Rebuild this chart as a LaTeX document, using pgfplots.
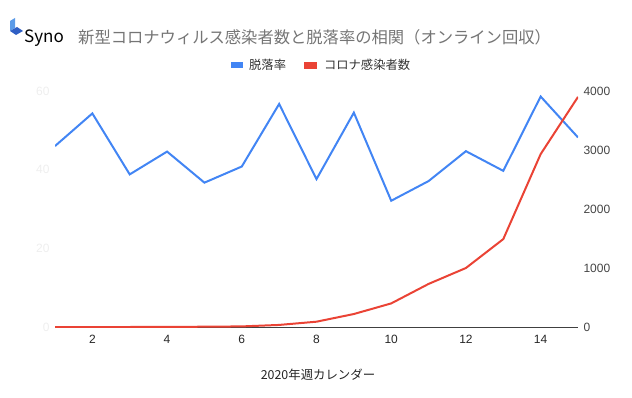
\documentclass[border=0pt]{standalone}
\usepackage{pgfplots}
\pgfplotsset{compat=1.18}
\usepackage{fontspec}
\setmainfont{Liberation Sans}
\newfontfamily\cjk{Noto Sans CJK JP}
\definecolor{cblue}{HTML}{4285F4}
\definecolor{cred}{HTML}{EA4335}
\definecolor{ltick}{HTML}{EEEEEE}
\definecolor{rtick}{HTML}{444444}
\definecolor{ttl}{HTML}{757575}
\definecolor{logolt}{HTML}{5B9BE8}
\definecolor{logodk}{HTML}{2F5FC4}

\pgfplotstableread{
w rate
1 46.0
2 54.3
3 38.8
4 44.6
5 36.7
6 40.8
7 56.7
8 37.6
9 54.5
10 32.1
11 37.1
12 44.7
13 39.7
14 58.6
15 48.2
}\ratetable

\pgfplotstableread{
w cases
1 0
2 0
3 0
4 1
5 5
6 10
7 35
8 90
9 220
10 400
11 730
12 1000
13 1490
14 2930
15 3900
}\casetable

\begin{document}
\begin{tikzpicture}[x=1pt,y=1pt]
\path[use as bounding box] (0,0) rectangle (632,397);
% logo
\fill[logolt] (10,376) -- (15,379) -- (15,369) -- (10,366) -- cycle;
\fill[logodk] (10,366) -- (17,370) -- (23,366) -- (16,362) -- cycle;
\node[anchor=west, inner sep=0pt, font=\cjk\fontsize{17}{20}\selectfont] at (24,359) {Syno};
% title
\node[anchor=west, inner sep=0pt, text=ttl, font=\cjk\fontsize{16.3}{19}\selectfont] at (78,360) {新型コロナウィルス感染者数と脱落率の相関（オンライン回収）};
% x label
\node[inner sep=0pt, text=black!85, font=\cjk\fontsize{12.4}{14}\selectfont] at (318,22) {2020年週カレンダー};

\begin{axis}[
  at={(55pt,70pt)}, anchor=south west,
  width=523pt, height=236pt, scale only axis,
  xmin=1, xmax=15, ymin=0, ymax=60,
  axis x line*=bottom, axis y line*=left,
  x axis line style={-, draw=black!75, line width=0.9pt},
  y axis line style={draw=none},
  xtick={2,4,...,14}, ytick={0,20,40,60},
  major tick length=0pt,
  /pgf/number format/assume math mode=true,
  xticklabel style={font=\fontsize{12}{14}\selectfont, text=black!85, yshift=-5pt},
  yticklabel style={font=\fontsize{12}{14}\selectfont, text=ltick, xshift=-2pt},
]
\addplot[cblue, line width=2pt, no markers] table[x=w, y=rate] {\ratetable};
\end{axis}

\begin{axis}[
  at={(55pt,70pt)}, anchor=south west,
  width=523pt, height=236pt, scale only axis,
  xmin=1, xmax=15, ymin=0, ymax=4000,
  axis x line=none, axis y line*=right,
  y axis line style={draw=none},
  ytick={0,1000,...,4000},
  major tick length=0pt,
  scaled y ticks=false,
  /pgf/number format/1000 sep={},
  /pgf/number format/assume math mode=true,
  yticklabel style={font=\fontsize{12}{14}\selectfont, text=rtick, xshift=2pt},
  legend style={at={(0.5076,1.110)}, anchor=center, draw=none, fill=none,
    font=\cjk\fontsize{12.3}{14}\selectfont, text=black!80,
    nodes={inner sep=0pt},
    /tikz/every odd column/.append style={column sep=7pt},
    /tikz/every even column/.append style={column sep=18pt}},
  legend columns=2,
  legend image code/.code={\fill[#1] (0pt,-2.5pt) rectangle (11pt,2.5pt);},
]
\addlegendimage{cblue, fill=cblue}
\addlegendentry{脱落率}
\addplot[cred, line width=2pt, no markers, fill=none] table[x=w, y=cases] {\casetable};
\addlegendentry{コロナ感染者数}
\end{axis}
\end{tikzpicture}
\end{document}
